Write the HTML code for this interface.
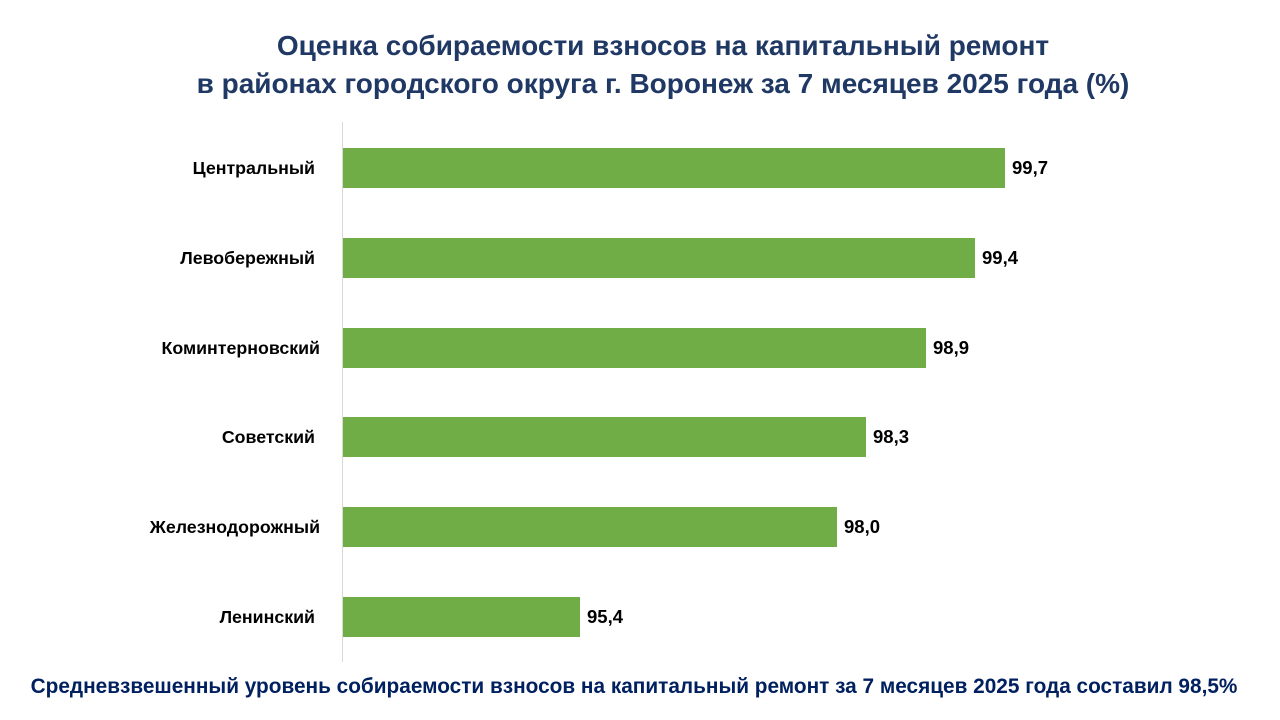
<!DOCTYPE html>
<html><head><meta charset="utf-8"><style>
body{margin:0;width:1280px;height:720px;background:#fff;font-family:"Liberation Sans",Arial,sans-serif;position:relative;overflow:hidden}
.t{position:absolute;left:0;width:1326px;text-align:center;font-weight:bold;font-size:28px;color:#1f3864}
.ax{position:absolute;left:342px;top:122px;width:1px;height:540px;background:#d9d9d9}
.bar{position:absolute;left:343px;height:40px;background:#70ad47}
.lb{position:absolute;right:965px;font-weight:bold;font-size:17.8px;color:#000;line-height:20px;white-space:nowrap}
.v{position:absolute;font-weight:bold;font-size:18.5px;color:#000;line-height:20px}
.f{position:absolute;left:0;width:1268px;text-align:center;top:675px;font-weight:bold;font-size:20.8px;color:#002060;white-space:nowrap}
</style></head><body>
<div class="t" style="top:30px">Оценка собираемости взносов на капитальный ремонт</div>
<div class="t" style="top:68px">в районах городского округа г. Воронеж за 7 месяцев 2025 года (%)</div>
<div class="ax"></div>

<div class="bar" style="top:148px;width:662px"></div><div class="lb" style="top:158px">Центральный</div><div class="v" style="left:1012px;top:158px">99,7</div>
<div class="bar" style="top:238px;width:632px"></div><div class="lb" style="top:248px">Левобережный</div><div class="v" style="left:982px;top:248px">99,4</div>
<div class="bar" style="top:328px;width:583px"></div><div class="lb" style="top:338px;right:960px">Коминтерновский</div><div class="v" style="left:933px;top:338px">98,9</div>
<div class="bar" style="top:417px;width:523px"></div><div class="lb" style="top:427px">Советский</div><div class="v" style="left:873px;top:427px">98,3</div>
<div class="bar" style="top:507px;width:494px"></div><div class="lb" style="top:517px;right:960px">Железнодорожный</div><div class="v" style="left:844px;top:517px">98,0</div>
<div class="bar" style="top:597px;width:237px"></div><div class="lb" style="top:607px">Ленинский</div><div class="v" style="left:587px;top:607px">95,4</div>

<div class="f">Средневзвешенный уровень собираемости взносов на капитальный ремонт за 7 месяцев 2025 года составил 98,5%</div>
</body></html>
